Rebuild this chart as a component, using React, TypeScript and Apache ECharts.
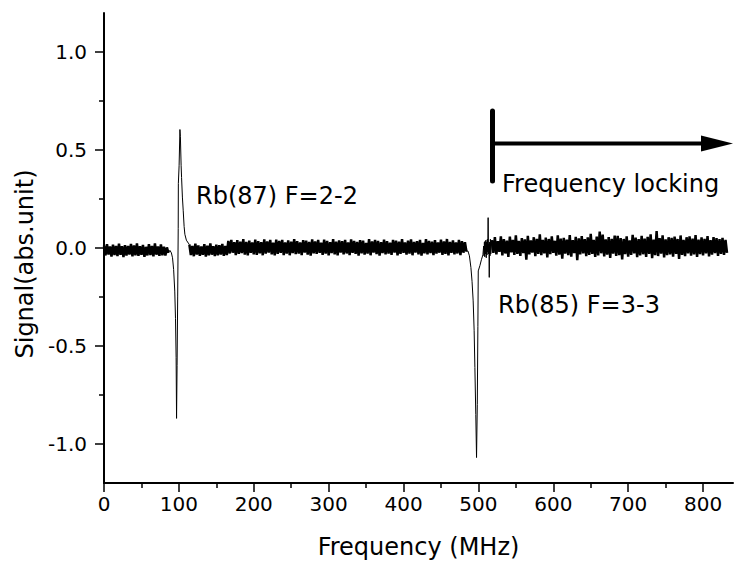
import React, { useEffect, useRef } from "react";
import * as echarts from "echarts";

// Axis ranges and ticks
const X_MIN = 0;
const X_MAX = 840;
const Y_MIN = -1.2;
const Y_MAX = 1.2;
const xMajorTicks = [0, 100, 200, 300, 400, 500, 600, 700, 800];
const xMinorTicks = [50, 150, 250, 350, 450, 550, 650, 750];
const yMajorTicks = [-1, -0.5, 0, 0.5, 1];
const yMinorTicks = [-0.75, -0.25, 0.25, 0.75];

// Sampling step (MHz) of the noisy baseline segments; signal values in units of 0.001
const STEP = 2;

// Baseline 0 .. 86 MHz
const noiseA = [
  12, -38, 20, -33, 8, -44, 17, -36, 10, -41, 22, -35, 9, -46, 15, -39, 11, -34, 21, -42,
  13, -37, 24, -40, 9, -35, 16, -45, 6, -38, 19, -36, 11, -43, 23, -34, 8, -40, 18, -37,
  7, -39, 3, -25,
];

// Rb(87) F=2-2 feature: [MHz, signal x1000]
const rb87: [number, number][] = [
  [88, -12], [90, -25], [91.5, -50], [93, -110], [94.5, -220], [95.5, -360],
  [96.3, -560], [96.9, -870], [97.6, -600], [98.4, -250], [99.1, 100],
  [99.3, 330], [100.3, 420], [101.4, 605], [102, 570], [103, 420],
  [103.6, 360], [104.7, 260], [105.8, 190], [107, 110], [108, 70],
  [110, 40], [112.6, 25],
];

// Baseline 114 .. 164 MHz
const noiseB = [
  18, -36, 10, -42, 22, -33, 13, -40, 8, -35, 20, -44, 12, -37,
  24, -34, 9, -41, 17, -38, 14, -33, 21, -40, 10, -36,
];

// Baseline 166 .. 484 MHz
const noiseC = [
  36, -28, 42, -24, 30, -36, 40, -30, 33, -26, 45, -34, 31, -38, 38, -25, 28, -32, 43, -35,
  35, -27, 30, -37, 44, -29, 34, -23, 41, -33, 27, -38, 43, -30, 36, -25, 42, -36, 29, -29,
  39, -37, 33, -26, 45, -31, 35, -28, 28, -36, 40, -24, 37, -34, 31, -39, 44, -27, 34, -30,
  41, -25, 27, -35, 43, -29, 36, -37, 30, -26, 45, -32, 32, -38, 39, -24, 35, -33, 42, -28,
  29, -36, 44, -25, 36, -30, 31, -39, 40, -27, 37, -34, 26, -29, 45, -37, 34, -24, 41, -31,
  36, -39, 30, -26, 43, -33, 35, -28, 27, -35, 42, -24, 38, -38, 32, -30, 45, -25, 29, -34,
  37, -29, 44, -37, 31, -24, 35, -32, 41, -39, 26, -27, 45, -33, 36, -26, 32, -36, 40, -29,
  29, -24, 43, -35, 34, -30, 46, -38, 31, -25, 39, -33, 28, -28, 42, -36, 35, -24, 30, -18,
];

// Rb(85) F=3-3 feature and the burst where locking starts: [MHz, signal x1000]
const rb85: [number, number][] = [
  [486, -15], [488, -40], [490, -100], [491.5, -170], [493, -270], [494.3, -420],
  [495.3, -610], [496.5, -850], [497.5, -1070], [498.5, -800], [499.3, -400],
  [499.8, -117], [502, -90], [504, -60], [506, -35], [507, 10], [507.5, -40],
  [508, 30], [508.5, -45], [509, 35], [509.5, -30], [510, 40], [510.5, -50],
  [511, 30], [511.5, -35], [512, 45], [512.5, -20], [513, 155], [513.5, -30],
  [514, 20], [514.5, -150], [515, 30], [515.5, -40], [516, 45], [516.5, -30],
];

// Locked region 518 .. 832 MHz
const noiseD = [
  40, -25, 55, -32, 35, -20, 60, -38, 45, -28, 38, -45, 58, -22, 42, -35, 65, -30, 36, -40,
  50, -26, 44, -60, 62, -33, 39, -24, 55, -42, 47, -30, 70, -36, 41, -27, 53, -48, 46, -31,
  59, -25, 37, -39, 64, -34, 48, -55, 52, -29, 43, -37, 66, -44, 40, -26, 57, -62, 49, -33,
  61, -28, 45, -41, 54, -35, 72, -30, 42, -46, 58, -38, 84, -27, 68, -43, 44, -34, 56, -50,
  47, -29, 63, -40, 62, -36, 51, -58, 46, -31, 60, -44, 39, -35, 67, -28, 53, -47, 45, -38,
  62, -32, 48, -45, 57, -30, 70, -52, 43, -36, 86, -41, 50, -29, 65, -48, 44, -37, 55, -33,
  52, -44, 58, -30, 46, -56, 64, -35, 41, -42, 55, -27, 60, -39, 48, -33, 66, -46, 43, -31,
  54, -38, 47, -28, 61, -43, 40, -34, 56, -26, 50, -40, 45, -30, 52, -35, 42, -25,
];

const seg = (start: number, vals: number[]) =>
  vals.map((v, i) => [start + i * STEP, v / 1000]);
const pts = (arr: [number, number][]) => arr.map(([x, v]) => [x, v / 1000]);

const FONT = "'DejaVu Sans', sans-serif";

export default function App() {
  const ref = useRef<HTMLDivElement>(null);
  useEffect(() => {
    if (!ref.current) return;
    const chart = echarts.init(ref.current, null, { renderer: "svg" });
    const a = seg(0, noiseA);
    const b = seg(114, noiseB);
    const c = seg(166, noiseC);
    const d = seg(518, noiseD);
    // dense noisy baseline (drawn heavier) — gaps where the resonances are
    const baseline = [...a, null, ...b, ...c, null, ...d];
    // resonance features, joined to the neighbouring baseline samples
    const features = [
      a[a.length - 1], ...pts(rb87), b[0],
      null,
      c[c.length - 1], ...pts(rb85), d[0],
    ];
    const axisColor = "#000";
    chart.setOption({
      animation: false,
      backgroundColor: "#fff",
      grid: { left: 104, right: 1, top: 13, bottom: 82, outerBoundsMode: "none" },
      xAxis: [
        {
          type: "value",
          min: X_MIN,
          max: X_MAX,
          position: "bottom",
          name: "Frequency (MHz)",
          nameLocation: "middle",
          nameGap: 52,
          nameTextStyle: { fontFamily: FONT, fontSize: 24, color: "#000" },
          axisLine: { onZero: false, lineStyle: { color: axisColor, width: 2 } },
          axisTick: {
            customValues: xMajorTicks,
            length: 9,
            lineStyle: { color: axisColor, width: 1.5 },
          },
          axisLabel: {
            customValues: xMajorTicks,
            fontFamily: FONT,
            fontSize: 20,
            color: "#000",
            margin: 11,
          },
          splitLine: { show: false },
        },
        {
          type: "value",
          min: X_MIN,
          max: X_MAX,
          position: "bottom",
          axisLine: { show: false, onZero: false },
          axisTick: {
            customValues: xMinorTicks,
            length: 5,
            lineStyle: { color: axisColor, width: 1.5 },
          },
          axisLabel: { show: false },
          splitLine: { show: false },
        },
      ],
      yAxis: [
        {
          type: "value",
          min: Y_MIN,
          max: Y_MAX,
          position: "left",
          name: "Signal(abs.unit)",
          nameLocation: "middle",
          nameGap: 64,
          nameTextStyle: {
            fontFamily: FONT,
            fontSize: 24,
            color: "#000",
            padding: [0, 32, 0, 0],
          },
          axisLine: { onZero: false, lineStyle: { color: axisColor, width: 2 } },
          axisTick: {
            customValues: yMajorTicks,
            length: 9,
            lineStyle: { color: axisColor, width: 1.5 },
          },
          axisLabel: {
            customValues: yMajorTicks,
            formatter: (v: number) => v.toFixed(1),
            fontFamily: FONT,
            fontSize: 20,
            color: "#000",
            margin: 17,
          },
          splitLine: { show: false },
        },
        {
          type: "value",
          min: Y_MIN,
          max: Y_MAX,
          position: "left",
          axisLine: { show: false, onZero: false },
          axisTick: {
            customValues: yMinorTicks,
            length: 5,
            lineStyle: { color: axisColor, width: 1.5 },
          },
          axisLabel: { show: false },
          splitLine: { show: false },
        },
      ],
      series: [
        {
          name: "baseline",
          type: "line",
          xAxisIndex: 0,
          yAxisIndex: 0,
          data: baseline,
          connectNulls: false,
          showSymbol: false,
          symbol: "none",
          silent: true,
          lineStyle: { color: "#000", width: 2.5 },
        },
        {
          name: "resonances",
          type: "line",
          xAxisIndex: 0,
          yAxisIndex: 0,
          data: features,
          connectNulls: false,
          showSymbol: false,
          symbol: "none",
          silent: true,
          lineStyle: { color: "#000", width: 1 },
        },
      ],
      graphic: [
        {
          type: "text",
          x: 196,
          y: 196,
          style: {
            text: "Rb(87) F=2-2",
            font: `24px ${FONT}`,
            fill: "#000",
            align: "left",
            verticalAlign: "middle",
          },
        },
        {
          type: "text",
          x: 498,
          y: 305,
          style: {
            text: "Rb(85) F=3-3",
            font: `24px ${FONT}`,
            fill: "#000",
            align: "left",
            verticalAlign: "middle",
          },
        },
        {
          type: "text",
          x: 502,
          y: 184,
          style: {
            text: "Frequency locking",
            font: `24px ${FONT}`,
            fill: "#000",
            align: "left",
            verticalAlign: "middle",
          },
        },
        {
          type: "line",
          shape: { x1: 492.5, y1: 111, x2: 492.5, y2: 181 },
          style: { stroke: "#000", lineWidth: 5, lineCap: "round" },
        },
        {
          type: "line",
          shape: { x1: 492, y1: 143.5, x2: 706, y2: 143.5 },
          style: { stroke: "#000", lineWidth: 4 },
        },
        {
          type: "polygon",
          shape: { points: [[701, 135.5], [733, 143.5], [701, 151.5]] },
          style: { fill: "#000" },
        },
      ],
    });
    return () => chart.dispose();
  }, []);
  return (
    <div
      ref={ref}
      style={{ position: "absolute", left: 0, top: 0, width: 734, height: 565 }}
    />
  );
}
